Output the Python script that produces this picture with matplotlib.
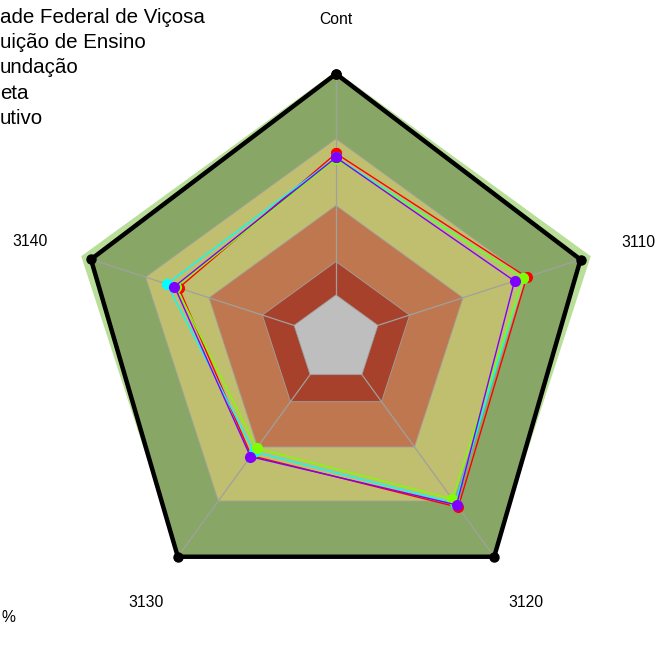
import numpy as np
import matplotlib.pyplot as plt

plt.rcParams['font.family'] = ['Liberation Sans', 'DejaVu Sans']

# eixos do radar (sentido horario a partir do topo)
categorias = ['Cont', '3110', '3120', '3130', '3140']

# faixas de desempenho (%), do centro para fora
faixas = [16.5, 29, 50, 75, 100]
cores_faixas = ['#BEBEBE', '#A8412B', '#BF774F', '#C0BF6F', '#B8DE98']
cor_meta_fundo = '#88A767'

# series (valores em %)
ufv = [69.5, 75.1, 77.9, 54.0, 61.9]
inst_ensino = [67.5, 73.6, 74.1, 50.6, 63.0]
fundacao = [68.0, 73.6, 76.0, 52.2, 66.6]
meta = [99.3, 96.3, 100.8, 100.8, 96.5]
executivo = [68.0, 70.3, 76.8, 54.5, 63.6]

# legenda como aparece (cortada na borda esquerda da imagem)
rotulos = ['ade Federal de Viçosa', 'uição de Ensino', 'undação', 'eta',
           'utivo']

ang = np.deg2rad(90 - 72 * np.arange(len(categorias)))


def pontos(vals):
    v = np.asarray(vals, dtype=float)
    x = v * np.cos(ang)
    y = v * np.sin(ang)
    return np.append(x, x[0]), np.append(y, y[0])


fig = plt.figure(figsize=(6.64, 6.68), dpi=100)
ax = fig.add_axes([0, 0, 1, 1])
esc = 2.67  # pixels por unidade
ax.set_xlim(-336 / esc, 328 / esc)
ax.set_ylim(-329 / esc, 339 / esc)
ax.axis('off')

# faixa externa
x, y = pontos([faixas[-1]] * 5)
ax.fill(x, y, color=cores_faixas[-1], zorder=1)
# area ate a meta
x, y = pontos(meta)
ax.fill(x, y, color=cor_meta_fundo, zorder=2)
# demais faixas
for r, c in zip(faixas[3:0:-1], cores_faixas[3:0:-1]):
    x, y = pontos([r] * 5)
    ax.fill(x, y, facecolor=c, edgecolor='#A0A0A0', lw=0.6, zorder=3)

# raios
for a, m in zip(ang, meta):
    ax.plot([0, m * np.cos(a)], [0, m * np.sin(a)], color='#A0A0A0',
            lw=0.9, zorder=4)

x, y = pontos([faixas[0]] * 5)
ax.fill(x, y, facecolor=cores_faixas[0], edgecolor='#A0A0A0', lw=0.6,
        zorder=5)

# meta
x, y = pontos(meta)
ax.plot(x, y, color='black', lw=3.2, marker='o', ms=6.5, zorder=6)

series = [(ufv, '#FF0000'), (fundacao, '#00FFFF'),
          (inst_ensino, '#80FF00'), (executivo, '#8000FF')]
for serie, c in series:
    x, y = pontos(serie)
    ax.plot(x, y, color=c, lw=1, marker='o', ms=7, zorder=7)

# rotulos dos eixos
raios_rot = [120.5, 119, 121, 121, 120.6]
for a, r, nome in zip(ang, raios_rot, categorias):
    ax.text(r * np.cos(a), r * np.sin(a) - 0.8, nome, ha='center',
            va='center', fontsize=11.3)

base_px = [23.3, 48.3, 73.3, 99, 124]
for rot, yp in zip(rotulos, base_px):
    fig.text(0, 1 - yp / 668, rot, ha='left', va='baseline', fontsize=14.8)

fig.text(15 / 664, 1 - 621.5 / 668, '%', ha='right', va='baseline',
         fontsize=11.3)

fig.savefig('out.png', dpi=100)
